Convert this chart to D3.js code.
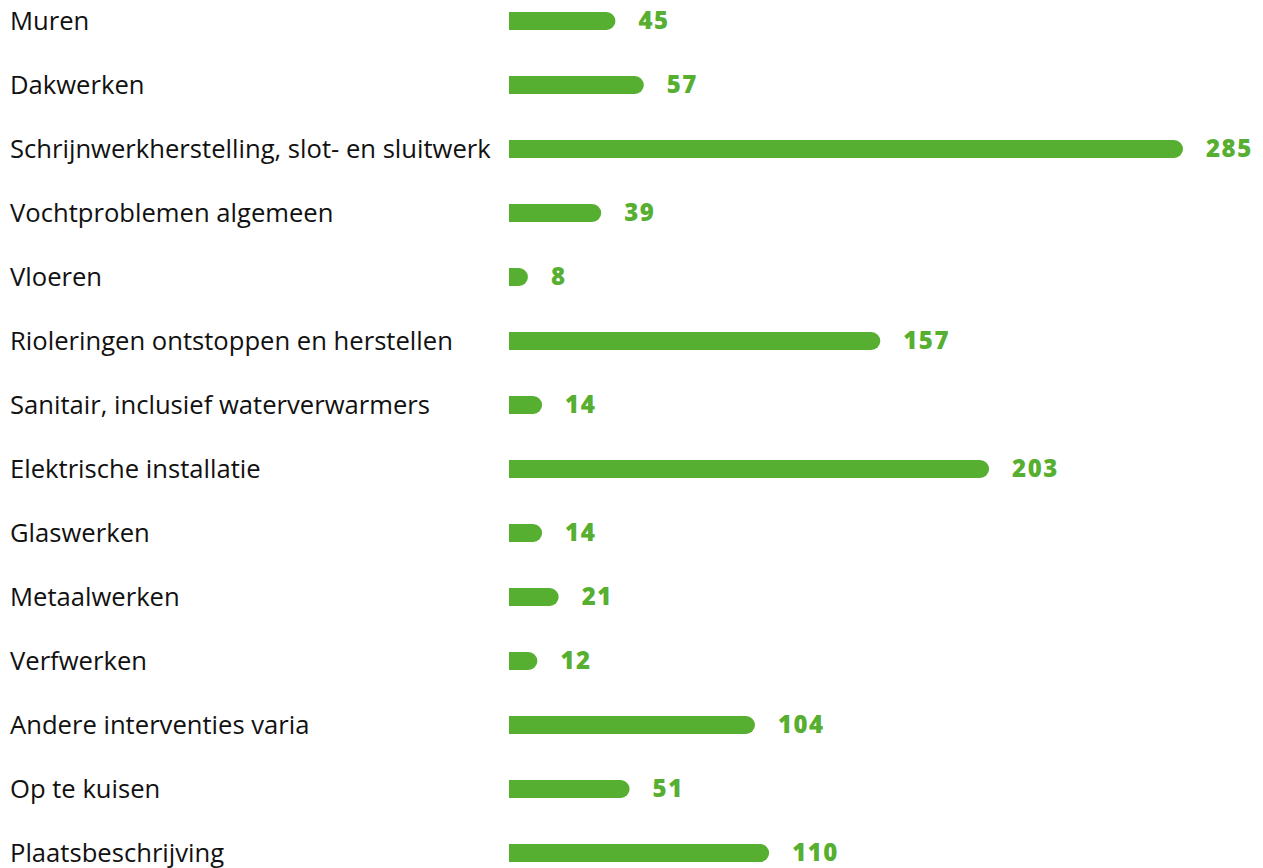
<!DOCTYPE html>
<html>
<head>
<meta charset="utf-8">
<script src="https://cdn.jsdelivr.net/npm/d3@7"></script>
<style>
    body { margin: 0; background: #fff; }
</style>
</head>
<body>
<script>
// Categories and counts, top to bottom
var categories = [
    "Muren",
    "Dakwerken",
    "Schrijnwerkherstelling, slot- en sluitwerk",
    "Vochtproblemen algemeen",
    "Vloeren",
    "Rioleringen ontstoppen en herstellen",
    "Sanitair, inclusief waterverwarmers",
    "Elektrische installatie",
    "Glaswerken",
    "Metaalwerken",
    "Verfwerken",
    "Andere interventies varia",
    "Op te kuisen",
    "Plaatsbeschrijving"
];
var values = [45, 57, 285, 39, 8, 157, 14, 203, 14, 21, 12, 104, 51, 110];

var width = 1263, height = 868;
var barLeft = 509, barRight = 1183;
var barH = 18, r = 9;
var green = "#56af31";

var svg = d3.select("body").append("svg")
    .attr("width", width)
    .attr("height", height);

var xScale = d3.scaleLinear().domain([0, 285]).range([barLeft, barRight]);
var yScale = d3.scalePoint().domain(categories).range([21, 853]);

var data = categories.map(function (c, i) { return {key: c, value: values[i]}; });

// category labels
var labels = svg.selectAll("text.label")
    .data(data)
    .enter()
    .append("text")
    .attr("class", "label")
    .attr("x", 10)
    .attr("y", function (d) { return yScale(d.key); })
    .attr("dy", "0.35em")
    .attr("font-family", "'Open Sans', sans-serif")
    .attr("font-size", "22px")
    .attr("fill", "#111")
    .text(function (d) { return d.key; });

// stretch label font so the longest label ends near x=491
var longest = labels.filter(function (d, i) { return i === 2; }).node();
var w = longest.getComputedTextLength();
if (w > 0) {
    labels.attr("font-size", (22 * 481 / w).toFixed(2) + "px");
}

// bars: flat left edge, rounded right end
function barPath(d) {
    var x0 = barLeft, x1 = xScale(d.value), y0 = yScale(d.key) - barH / 2;
    var rr = Math.min(r, x1 - x0);
    return "M" + x0 + "," + y0 +
        "H" + (x1 - rr) +
        "A" + rr + "," + r + " 0 0 1 " + x1 + "," + (y0 + r) +
        "A" + rr + "," + r + " 0 0 1 " + (x1 - rr) + "," + (y0 + barH) +
        "H" + x0 + "Z";
}

svg.selectAll("path.bar")
    .data(data)
    .enter()
    .append("path")
    .attr("class", "bar")
    .attr("d", barPath)
    .attr("fill", green);

// value labels
svg.selectAll("text.value")
    .data(data)
    .enter()
    .append("text")
    .attr("class", "value")
    .attr("x", function (d) { return xScale(d.value) + 23; })
    .attr("y", function (d) { return yScale(d.key); })
    .attr("dy", "0.35em")
    .attr("font-family", "'Open Sans', sans-serif")
    .attr("font-weight", "800")
    .attr("font-size", "24px")
    .attr("letter-spacing", "1.5px")
    .attr("fill", green)
    .text(function (d) { return d.value; });
</script>
</body>
</html>
